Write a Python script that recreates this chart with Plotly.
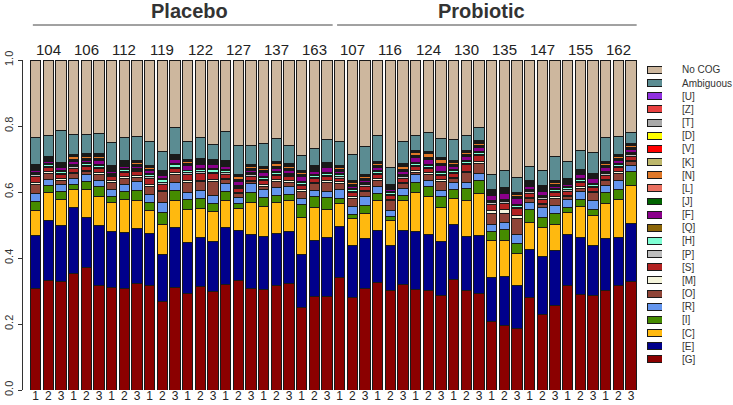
import plotly.graph_objects as go

# ---------------- data ----------------
placebo_subjects = ["104", "106", "112", "119", "122", "127", "137", "163"]
probiotic_subjects = ["107", "116", "124", "130", "135", "147", "155", "162"]
timepoints = ["1", "2", "3"]

# stacking order, bottom to top
categories = ["[G]", "[E]", "[C]", "[I]", "[R]", "[O]", "[M]", "[S]", "[P]", "[H]",
              "[Q]", "[F]", "[J]", "[L]", "[N]", "[K]", "[V]", "[D]", "[T]", "[Z]",
              "[U]", "Ambiguous", "No COG"]

G = [.308, .333, .328, .351, .372, .316, .309, .308, .322, .316, .269, .313, .292, .314, .298, .321, .330, .309, .303, .318, .322, .249, .284, .284,
     .340, .282, .308, .326, .301, .319, .304, .301, .286, .335, .302, .293, .210, .196, .186, .281, .229, .256, .316, .290, .286, .303, .318, .327]
E = [.161, .180, .172, .201, .150, .182, .171, .170, .166, .159, .143, .180, .156, .150, .153, .171, .153, .163, .162, .156, .158, .162, .168, .178,
     .157, .157, .149, .157, .137, .163, .178, .172, .164, .167, .162, .176, .132, .149, .134, .143, .175, .168, .155, .171, .152, .158, .145, .178]
C = [.075, .085, .078, .053, .086, .089, .086, .101, .087, .070, .092, .085, .100, .089, .091, .083, .065, .097, .092, .094, .095, .111, .102, .085,
     .068, .080, .078, .090, .074, .093, .116, .114, .104, .078, .110, .126, .112, .109, .097, .083, .086, .079, .068, .095, .090, .104, .114, .114]
I = [.028, .023, .025, .017, .025, .031, .018, .024, .030, .025, .035, .030, .030, .029, .026, .026, .016, .032, .026, .023, .017, .041, .031, .036,
     .016, .014, .024, .022, .013, .015, .032, .030, .033, .026, .036, .040, .029, .035, .031, .038, .032, .033, .016, .022, .018, .033, .031, .043]
R = [.023, .017, .021, .018, .021, .018, .023, .020, .025, .023, .032, .022, .023, .023, .023, .025, .019, .025, .024, .022, .023, .018, .020, .021,
     .027, .025, .027, .021, .019, .020, .023, .018, .019, .021, .020, .021, .021, .022, .027, .023, .029, .022, .023, .025, .027, .023, .026, .017]
O = [.028, .018, .012, .015, .008, .018, .022, .019, .014, .026, .032, .026, .029, .028, .042, .013, .010, .006, .010, .019, .013, .022, .020, .026,
     .018, .022, .014, .019, .028, .014, .008, .019, .027, .012, .028, .030, .033, .028, .048, .012, .010, .023, .010, .008, .024, .013, .022, .012]
M = [.006, .005, .005, .004, .005, .005, .004, .005, .004, .005, .004, .005, .005, .005, .006, .004, .004, .005, .005, .006, .005, .004, .004, .005,
     .005, .006, .004, .005, .004, .005, .005, .006, .005, .004, .005, .005, .009, .010, .010, .004, .004, .005, .004, .005, .005, .006, .005, .004]
S = [.019, .012, .012, .012, .012, .012, .012, .012, .012, .019, .019, .012, .019, .019, .019, .012, .012, .012, .012, .012, .012, .012, .012, .012,
     .012, .012, .012, .012, .012, .012, .012, .012, .012, .012, .019, .019, .019, .019, .019, .012, .012, .012, .012, .012, .012, .012, .012, .012]
P = [.004, .004, .005, .004, .003, .004, .004, .005, .004, .004, .005, .004, .005, .006, .004, .004, .003, .004, .004, .004, .004, .004, .004, .004,
     .004, .004, .004, .004, .004, .004, .004, .004, .004, .004, .004, .004, .005, .005, .005, .004, .004, .004, .004, .004, .004, .004, .004, .004]
H = [.004, .005, .005, .004, .005, .005, .004, .005, .005, .007, .008, .009, .006, .006, .007, .007, .004, .005, .004, .005, .004, .005, .006, .007,
     .006, .005, .004, .005, .004, .004, .006, .005, .005, .005, .005, .004, .004, .004, .004, .005, .004, .005, .008, .005, .005, .005, .005, .004]
Q = [.003, .003, .003, .003, .003, .003, .003, .003, .003, .003, .004, .003, .003, .003, .003, .003, .003, .003, .003, .003, .003, .004, .003, .003,
     .003, .003, .003, .003, .003, .003, .003, .003, .003, .003, .003, .003, .004, .003, .004, .003, .003, .003, .003, .003, .003, .003, .003, .003]
F = [.006, .007, .008, .008, .007, .012, .006, .006, .006, .008, .010, .012, .015, .014, .012, .008, .012, .006, .012, .010, .010, .016, .008, .014,
     .008, .008, .008, .010, .006, .010, .014, .016, .018, .010, .014, .014, .015, .018, .020, .008, .012, .008, .006, .012, .014, .012, .010, .010]
J = [.003, .003, .003, .003, .003, .003, .003, .003, .003, .003, .003, .003, .003, .003, .003, .003, .003, .003, .003, .003, .003, .003, .003, .003,
     .003, .003, .003, .003, .003, .003, .003, .003, .004, .003, .003, .003, .003, .003, .003, .003, .003, .003, .003, .003, .003, .003, .003, .003]
L = [.003, .003, .003, .003, .003, .003, .003, .003, .003, .003, .003, .003, .003, .003, .003, .003, .003, .003, .003, .003, .003, .003, .003, .003,
     .003, .003, .003, .003, .003, .003, .003, .003, .003, .003, .003, .003, .003, .003, .003, .003, .003, .003, .003, .003, .003, .003, .003, .003]
N = [.004, .004, .004, .010, .006, .008, .003, .004, .004, .004, .003, .004, .004, .004, .004, .005, .008, .006, .008, .008, .006, .004, .004, .004,
     .004, .004, .004, .005, .003, .010, .010, .010, .012, .006, .005, .006, .004, .005, .004, .004, .004, .004, .003, .004, .004, .004, .006, .004]
K = [.0015, .0015, .0015, .0015, .0015, .0015, .0015, .0015, .0015, .0015, .0015, .0015, .0015, .0015, .0015, .0015, .0015, .0015, .0015, .0015, .0015, .0015, .0015, .0015,
     .0015, .0015, .0015, .0015, .0015, .0015, .0015, .0015, .0015, .0015, .0015, .0015, .0015, .0015, .0015, .0015, .0015, .0015, .0015, .0015, .0015, .0015, .0015, .0015]
V = [.001, .001, .001, .001, .001, .001, .001, .001, .001, .001, .001, .001, .001, .001, .001, .001, .001, .001, .001, .001, .001, .001, .001, .001,
     .001, .001, .001, .001, .001, .001, .001, .001, .001, .001, .001, .001, .001, .001, .001, .001, .001, .001, .001, .001, .001, .001, .001, .001]
D = [.0005, .0005, .0005, .0005, .0005, .0005, .0005, .0005, .0005, .0005, .0005, .0005, .0005, .0005, .0005, .0005, .0005, .0005, .0005, .0005, .0005, .0005, .0005, .0005,
     .0005, .0005, .0005, .0005, .0005, .0005, .0005, .0005, .0005, .0005, .0005, .0005, .0005, .0005, .0005, .0005, .0005, .0005, .0005, .0005, .0005, .0005, .0005, .0005]
T = [.002, .002, .002, .002, .002, .002, .002, .002, .002, .002, .002, .002, .002, .002, .002, .002, .002, .002, .002, .002, .002, .002, .002, .002,
     .002, .002, .002, .002, .002, .002, .002, .002, .002, .002, .002, .002, .002, .002, .002, .002, .002, .002, .002, .002, .002, .002, .002, .002]
Z = [.0005, .0005, .0005, .0005, .0005, .0005, .0005, .0005, .0005, .0005, .0005, .0005, .0005, .0005, .0005, .0005, .0005, .0005, .0005, .0005, .0005, .0005, .0005, .0005,
     .0005, .0005, .0005, .0005, .0005, .0005, .0005, .0005, .0005, .0005, .0005, .0005, .0005, .0005, .0005, .0005, .0005, .0005, .0005, .0005, .0005, .0005, .0005, .0005]
U = [.0015, .0015, .0015, .0015, .0015, .0015, .0015, .0015, .0015, .0015, .0015, .0015, .0015, .0015, .0015, .0015, .0015, .0015, .0015, .0015, .0015, .0015, .0015, .0015,
     .0015, .0015, .0015, .0015, .0015, .0015, .0015, .0015, .0015, .0015, .0015, .0015, .0015, .0015, .0015, .0015, .0015, .0015, .0015, .0015, .0015, .0015, .0015, .0015]
Ambiguous = [.082, .063, .095, .061, .058, .062, .071, .070, .073, .073, .057, .082, .055, .063, .045, .089, .086, .055, .068, .069, .056, .046, .053, .070,
             .074, .078, .083, .080, .052, .066, .045, .057, .056, .061, .045, .042, .047, .053, .047, .044, .047, .073, .052, .057, .063, .072, .054, .034]
NoCOG = [.236, .228, .215, .224, .227, .222, .249, .236, .231, .247, .278, .204, .247, .237, .257, .217, .259, .261, .253, .239, .258, .289, .268, .240,
         .246, .288, .263, .228, .325, .248, .228, .221, .239, .242, .229, .203, .348, .336, .357, .322, .334, .292, .309, .274, .280, .236, .232, .219]

series = [G, E, C, I, R, O, M, S, P, H, Q, F, J, L, N, K, V, D, T, Z, U, Ambiguous, NoCOG]

colors = ["#8B0000", "#00008B", "#FFB90F", "#458B00", "#6495ED", "#8F4437", "#F5F5DC", "#B22222",
          "#BEBEBE", "#7FFFD4", "#8B6508", "#8B008B", "#006400", "#EA7060", "#E07828", "#BDB76B",
          "#FF0000", "#FFFF00", "#A9A9A9", "#E84040", "#9030E0", "#5B8C92", "#CDB79E"]

# ---------------- layout constants ----------------
W, H_ = 733, 405
FONT = "Liberation Sans, Arial, Helvetica, sans-serif"
plot_left, plot_right = 29.3, 637.3
plot_top, plot_bottom = 60, 390

subjects = placebo_subjects + probiotic_subjects
n_bars = len(subjects) * len(timepoints)
xs = list(range(n_bars))
ticktext = [t for s in subjects for t in timepoints]

# normalise each bar to proportions
totals = [sum(s[i] for s in series) for i in range(n_bars)]

fig = go.Figure()
for name, vals, col in zip(categories, series, colors):
    fig.add_trace(go.Bar(
        x=xs, y=[v / t for v, t in zip(vals, totals)], name=name,
        marker=dict(color=col, line=dict(color="#1a1a1a", width=1)),
        showlegend=False, xaxis="x", yaxis="y"))

# legend drawn as a small bar chart on its own axes
for name, col in zip(categories, colors):
    fig.add_trace(go.Bar(
        x=[1], y=[name], orientation="h", width=0.53,
        marker=dict(color=col, line=dict(color="#1a1a1a", width=1)),
        showlegend=False, xaxis="x2", yaxis="y2"))

leg_center_top, leg_center_bottom = 70.0, 359.3
step = (leg_center_bottom - leg_center_top) / (len(categories) - 1)
leg_top = leg_center_top - step / 2
leg_bottom = leg_center_bottom + step / 2

fig.update_layout(
    width=W, height=H_, autosize=False,
    margin=dict(l=0, r=0, t=0, b=0, pad=0),
    paper_bgcolor="white", plot_bgcolor="white",
    barmode="stack", bargap=0.18,
    font=dict(family=FONT, color="#222222"),
    xaxis=dict(domain=[plot_left / W, plot_right / W], range=[-0.5, n_bars - 0.5],
               tickvals=xs, ticktext=ticktext, tickfont=dict(size=12, color="#222"),
               ticks="", ticklabelstandoff=-3,
               showline=False, showgrid=False, zeroline=False,
               automargin=False, fixedrange=True),
    yaxis=dict(domain=[(H_ - plot_bottom) / H_, (H_ - plot_top) / H_], range=[0, 1],
               anchor="free", position=21.5 / W,
               tickvals=[0, 0.2, 0.4, 0.6, 0.8, 1.0], tickformat=".1f", tickangle=-90,
               tickfont=dict(size=11, color="#333"),
               ticks="outside", ticklen=4, tickcolor="#333",
               showline=True, linecolor="#333", linewidth=1,
               showgrid=False, zeroline=False, automargin=False),
    xaxis2=dict(domain=[647 / W, 662 / W], range=[0, 1], anchor="y2",
                visible=False, fixedrange=True),
    yaxis2=dict(domain=[(H_ - leg_bottom) / H_, (H_ - leg_top) / H_], anchor="x2",
                type="category", categoryorder="array", categoryarray=categories,
                range=[-0.5, len(categories) - 0.5], side="right",
                ticks="outside", ticklen=17, tickcolor="rgba(0,0,0,0)",
                tickfont=dict(size=10, color="#333"),
                showline=False, showgrid=False, zeroline=False, automargin=False),
)

# group headers
line_y = (H_ - 25) / H_
fig.add_shape(type="line", xref="x", yref="paper", x0=-0.22, x1=23.45, y0=line_y, y1=line_y,
              line=dict(color="#444", width=1))
fig.add_shape(type="line", xref="x", yref="paper", x0=23.8, x1=47.45, y0=line_y, y1=line_y,
              line=dict(color="#444", width=1))
fig.add_annotation(text="<b>Placebo</b>", xref="paper", yref="paper", x=189.5 / W, y=(H_ - 11) / H_,
                   showarrow=False, font=dict(size=20, color="#333"), xanchor="center", yanchor="middle")
fig.add_annotation(text="<b>Probiotic</b>", xref="paper", yref="paper", x=481 / W, y=(H_ - 11) / H_,
                   showarrow=False, font=dict(size=20, color="#333"), xanchor="center", yanchor="middle")

for k, s in enumerate(subjects):
    fig.add_annotation(text=s, xref="x", yref="paper", x=3 * k + 1, y=(H_ - 49) / H_,
                       showarrow=False, font=dict(size=15, color="#222"),
                       xanchor="center", yanchor="middle")

fig.write_html("out.html")
